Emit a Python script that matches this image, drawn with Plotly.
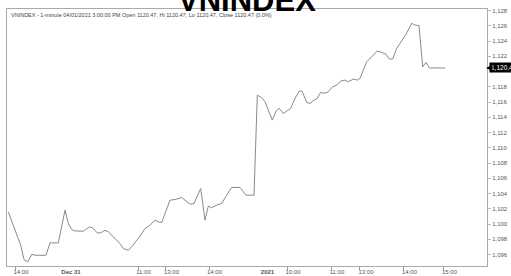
import plotly.graph_objects as go

# Bar index (compressed intraday time axis) and VNINDEX values
bar_index = [1.3, 9.7, 13.7, 17, 20.7, 24.7, 28, 39, 43, 51.3, 58, 61.3, 64.7, 68, 76.3,
             82.3, 85.7, 90.3, 93.7, 98, 101.3, 108, 113, 116.3, 121.3, 126, 133, 138,
             143, 148, 151.3, 154.7, 163, 168, 174.7, 183, 187, 193.7, 198, 201.3, 204.7,
             209.7, 214.7, 219.7, 224.7, 233, 239, 247, 250.3, 254.7, 258, 261.3, 265.3,
             269, 272.3, 276.3, 280.3, 283.7, 288, 292.3, 295, 299.7, 303, 307, 309.7,
             313.7, 317, 321.3, 325.7, 329.7, 333.7, 338, 341.3, 346.3, 350.3, 353, 359.7,
             364.7, 370.3, 374.7, 379, 382.3, 385.7, 389.7, 394.7, 399, 404.7, 408, 412,
             415.7, 419, 422.3, 438]
values = [1101.60, 1098.80, 1097.23, 1095.35, 1095.03, 1096.04, 1095.91, 1095.91, 1097.53,
          1097.53, 1101.82, 1100.07, 1099.29, 1099.10, 1099.06, 1099.63, 1099.50, 1098.84,
          1098.84, 1099.19, 1098.97, 1098.10, 1097.45, 1096.79, 1096.57, 1097.23, 1098.41,
          1099.42, 1099.85, 1100.51, 1100.28, 1100.20, 1103.13, 1103.22, 1103.49, 1102.61,
          1102.70, 1104.67, 1100.51, 1102.34, 1102.17, 1102.48, 1102.70, 1103.79, 1104.80,
          1104.80, 1103.79, 1103.79, 1116.91, 1116.56, 1116.03, 1114.94, 1113.63, 1114.81,
          1115.17, 1114.51, 1114.81, 1115.17, 1116.48, 1117.44, 1117.44, 1115.95, 1115.82,
          1116.25, 1116.39, 1117.27, 1117.13, 1117.34, 1118.00, 1118.22, 1118.75, 1118.88,
          1118.66, 1119.01, 1118.88, 1119.10, 1121.28, 1121.94, 1122.69, 1122.51, 1122.25,
          1121.64, 1121.64, 1123.04, 1124.13, 1124.88, 1126.32, 1126.10, 1126.01, 1120.62,
          1121.20, 1120.47, 1120.47]

x_label_pos = [14, 64, 136.5, 164.5, 207.5, 260.5, 286, 330, 359, 402.5, 442.5]
x_labels = ["14:00", "<b>Dec 31</b>", "11:00", "13:00", "14:00", "<b>2021</b>",
            "10:00", "11:00", "13:00", "14:00", "15:00"]
x_tick_marks = [8, 131, 158, 202, 280, 324, 352, 396, 436]
y_ticks = [1096, 1098, 1100, 1102, 1104, 1106, 1108, 1110, 1112, 1114, 1116, 1118,
           1122, 1124, 1126, 1128]
last_value = 1120.47
last_label = "1,120.47"
title_text = "VNINDEX"
header = ("VNINDEX - 1-minute 04/01/2021 3:00:00 PM Open 1120.47, Hi 1120.47, "
          "Lo 1120.47, Close 1120.47 (0.0%)")

FONT = "Liberation Sans, Arial, sans-serif"

fig = go.Figure()
fig.add_trace(go.Scatter(x=bar_index, y=values, mode="lines",
                         line=dict(color="#8a8a8a", width=1), hoverinfo="skip"))

fig.update_layout(
    width=511, height=276,
    margin=dict(l=7, r=24, t=9, b=10, autoexpand=False),
    paper_bgcolor="white", plot_bgcolor="white",
    showlegend=False,
    font=dict(family=FONT, color="#555555", size=6),
    xaxis=dict(range=[0, 480], tickvals=x_label_pos, ticktext=x_labels, ticks="",
               automargin=False,
               showgrid=False, zeroline=False, showline=True, mirror=True,
               linecolor="#aaaaaa", linewidth=1,
               tickfont=dict(size=6, color="#555555"),
               minor=dict(tickvals=x_tick_marks, ticks="outside", ticklen=3,
                          tickcolor="#999999", showgrid=False)),
    yaxis=dict(range=[1094.5, 1128.2], side="right", tickvals=y_ticks, tickformat=",d",
               ticks="outside", ticklen=3, tickcolor="#bbbbbb",
               ticklabeloverflow="allow", automargin=False,
               showgrid=False, zeroline=False, showline=True, mirror=True,
               linecolor="#aaaaaa", linewidth=1,
               tickfont=dict(size=6, color="#555555")),
)

fig.add_annotation(xref="paper", yref="paper", x=0.5, y=1, xanchor="center",
                   yanchor="bottom", yshift=-11, showarrow=False,
                   text="<b>" + title_text + "</b>",
                   font=dict(size=31, color="black", family=FONT))
fig.add_annotation(xref="paper", yref="paper", x=0, y=1, xanchor="left", yanchor="top",
                   xshift=2, yshift=-1, showarrow=False, text=header,
                   font=dict(size=5.5, color="#444444", family=FONT))
fig.add_annotation(xref="paper", yref="y", x=1, y=last_value, xanchor="left",
                   yanchor="middle", xshift=2, showarrow=False,
                   text=last_label, bgcolor="black", borderpad=1,
                   font=dict(size=6.5, color="white", family=FONT))
fig.add_annotation(xref="paper", yref="y", x=1, y=last_value, xanchor="left",
                   yanchor="middle", xshift=-3, showarrow=False, text="◀",
                   font=dict(size=8, color="black", family="DejaVu Sans"))

fig.write_html("out.html", config={"displayModeBar": False},
               post_script="document.body.style.margin='0';document.body.style.overflow='hidden';")
